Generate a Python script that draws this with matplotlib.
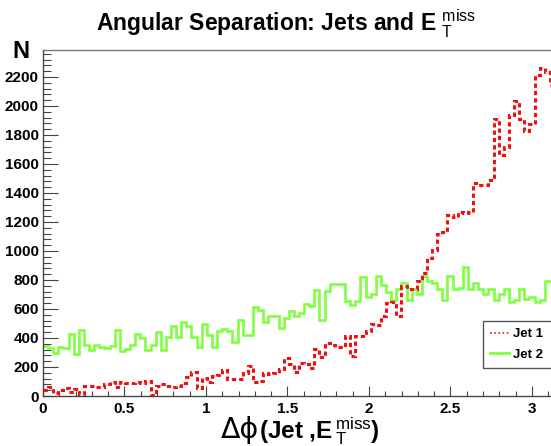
import numpy as np
import matplotlib
matplotlib.use("Agg")
import matplotlib.pyplot as plt
from matplotlib.ticker import MultipleLocator, FuncFormatter
from matplotlib.lines import Line2D

plt.rcParams['font.family'] = ['Liberation Sans', 'DejaVu Sans']
plt.rcParams['mathtext.fontset'] = 'custom'
plt.rcParams['mathtext.rm'] = 'Liberation Sans'
plt.rcParams['mathtext.bf'] = 'Liberation Sans:bold'
plt.rcParams['mathtext.it'] = 'Liberation Sans:italic'

# ---- data: 100 bins over [0, pi] ----
n_bins = 100
x_min, x_max = 0.0, np.pi

jet1 = [40, 64, 21, 39, 57, 30, 50, 16, 66, 66,
        64, 64, 80, 94, 64, 99, 87, 92, 99, 87,
        103, 5, 69, 80, 69, 64, 66, 87, 131, 167,
        55, 121, 98, 135, 146, 180, 115, 114, 115, 160,
        204, 94, 105, 158, 153, 158, 188, 259, 222, 165,
        231, 218, 195, 327, 268, 366, 350, 339, 339, 417,
        275, 412, 412, 451, 499, 492, 550, 640, 648, 550,
        760, 735, 740, 790, 850, 950, 1008, 1116, 1129, 1249,
        1237, 1271, 1260, 1271, 1466, 1455, 1455, 1489, 1913, 1661,
        1714, 1936, 2032, 1913, 1826, 1879, 2211, 2261, 2234, 2142]

jet2 = [348, 332, 296, 341, 332, 428, 291, 456, 355, 316,
        351, 337, 332, 346, 456, 309, 321, 355, 428, 401,
        316, 355, 444, 316, 408, 483, 408, 511, 483, 405,
        337, 497, 420, 340, 447, 463, 447, 373, 526, 420,
        420, 617, 596, 511, 550, 555, 466, 540, 585, 555,
        575, 635, 620, 728, 522, 722, 773, 775, 775, 653,
        628, 657, 820, 683, 703, 826, 765, 720, 665, 740,
        780, 660, 740, 700, 825, 790, 780, 740, 665, 830,
        735, 745, 893, 735, 780, 735, 700, 735, 660, 700,
        735, 645, 665, 735, 670, 680, 650, 665, 790, 790]

series_labels = ["Jet 1", "Jet 2"]
y_max = 2386
title = r"Angular Separation: Jets and $\mathbf{E}\ {}_{\mathrm{T}}^{\mathrm{miss}}$"
xlabel_sym = "\u0394\u03d5"
xlabel_rest = r"(Jet ,$\mathbf{E}\,{}_{\mathrm{T}}^{\mathrm{miss}}$)"

W, H = 551, 446
fig = plt.figure(figsize=(W / 100, H / 100), dpi=100)
ax = fig.add_axes([43 / W, 50 / H, 512 / W, 346 / H])

edges = np.linspace(x_min, x_max, n_bins + 1)
red = '#ee1111'
green = '#80ff40'
ax.stairs(jet1, edges, baseline=None, color=red, lw=2.2,
          linestyle=(0, (1.4, 1.0)), zorder=3)
ax.stairs(jet2, edges, baseline=None, color=green, lw=1.9, zorder=2)

ax.set_xlim(x_min, x_max)
ax.set_ylim(0, y_max)

axc = '#444444'
for s in ['left', 'bottom']:
    ax.spines[s].set_color(axc)
    ax.spines[s].set_linewidth(1.0)
ax.spines['top'].set_color('#777777')
ax.spines['top'].set_linewidth(1.0)
ax.spines['right'].set_visible(False)

ax.xaxis.set_major_locator(MultipleLocator(0.5))
ax.xaxis.set_minor_locator(MultipleLocator(0.1))
ax.yaxis.set_major_locator(MultipleLocator(200))
ax.yaxis.set_minor_locator(MultipleLocator(40))
ax.xaxis.set_major_formatter(FuncFormatter(lambda v, p: f"{v:g}"))
ax.yaxis.set_major_formatter(FuncFormatter(lambda v, p: f"{v:g}" if v <= 2200 else ""))

ax.xaxis.set_tick_params(which='major', direction='in', length=7.2, width=0.8, color=axc, pad=4)
ax.xaxis.set_tick_params(which='minor', direction='in', length=3.6, width=0.8, color=axc)
ax.yaxis.set_tick_params(which='major', direction='in', length=10.8, width=0.8, color=axc, pad=3)
ax.yaxis.set_tick_params(which='minor', direction='in', length=5.4, width=0.8, color=axc)
ax.tick_params(top=False, right=False, which='both')
for lab in ax.get_xticklabels() + ax.get_yticklabels():
    lab.set_fontweight('bold')
    lab.set_fontsize(11)

# title
fig.text(96 / W, 1 - 32 / H, title, ha='left', va='baseline',
         fontsize=16.5, fontweight='bold')
# y label "N"
fig.text(21 / W, 1 - 58 / H, "N", ha='center', va='baseline',
         fontsize=17, fontweight='bold')
# x label
fig.text(221 / W, 1 - 438 / H, xlabel_sym, ha='left', va='baseline',
         fontsize=20.5, family='DejaVu Sans')
fig.text(259 / W, 1 - 438 / H, xlabel_rest,
         ha='left', va='baseline', fontsize=17.5, fontweight='bold')

handles = [Line2D([], [], color=red, lw=1.2, linestyle=(0, (1, 1.5))),
           Line2D([], [], color=green, lw=2.0)]
leg = fig.legend(handles, series_labels, loc='upper left',
                 bbox_to_anchor=(483 / W, 1 - 367 / H, 90 / W, 46 / H),
                 bbox_transform=fig.transFigure, mode='expand',
                 frameon=True, fancybox=False, edgecolor='#555555', framealpha=1,
                 prop={'weight': 'bold', 'size': 9.5}, handlelength=1.4,
                 handletextpad=0.35, labelspacing=0.6, borderpad=0.55,
                 borderaxespad=0)
leg.get_frame().set_linewidth(1.0)

fig.savefig("out.png", dpi=100)
